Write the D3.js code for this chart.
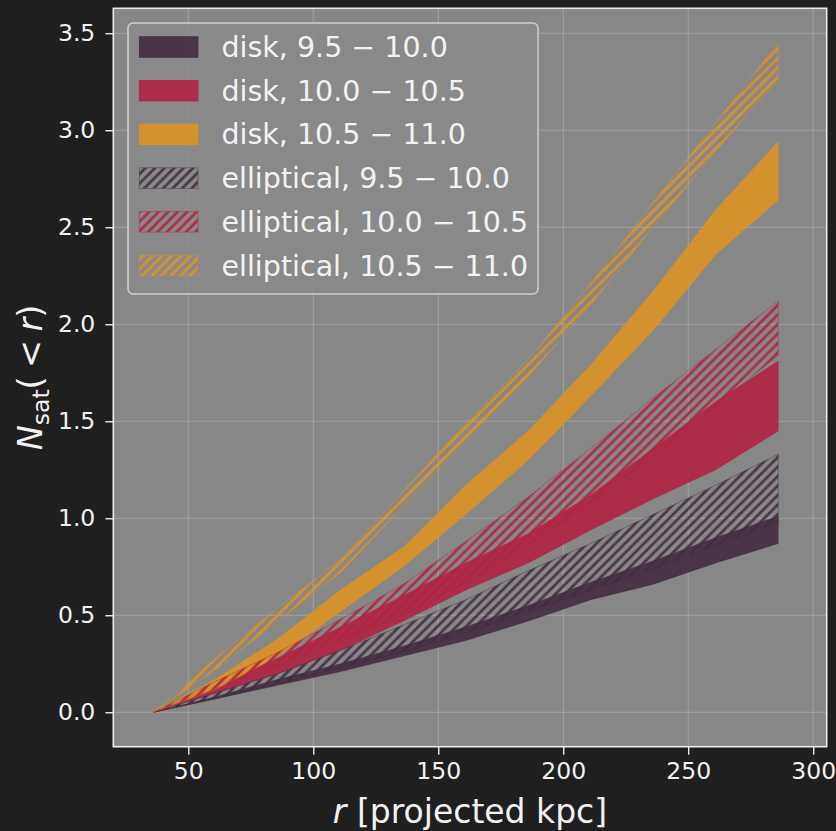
<!DOCTYPE html>
<html>
<head>
<meta charset="utf-8">
<script src="https://cdn.jsdelivr.net/npm/d3@7"></script>
<style>
  html, body { margin: 0; padding: 0; background: #1f1f1f; }
  svg { display: block; font-family: "DejaVu Sans", sans-serif; }
</style>
</head>
<body>
<svg id="chart" width="836" height="831"></svg>
<script>
// Cumulative satellite counts N_sat(<r) vs projected radius, by host type and stellar-mass bin
const radii = [36, 61, 86, 111, 136, 161, 186, 211, 236, 261, 286];

const disk1Lo = [0, 0.07, 0.14, 0.21, 0.29, 0.37, 0.47, 0.58, 0.66, 0.77, 0.87];
const disk1Hi = [0, 0.08, 0.17, 0.25, 0.34, 0.44, 0.55, 0.67, 0.78, 0.90, 1.01];
const disk2Lo = [0, 0.10, 0.20, 0.32, 0.47, 0.63, 0.77, 0.94, 1.10, 1.25, 1.45];
const disk2Hi = [0, 0.14, 0.28, 0.44, 0.60, 0.77, 0.92, 1.12, 1.36, 1.60, 1.81];
const disk3Lo = [0, 0.12, 0.29, 0.52, 0.75, 1.02, 1.30, 1.63, 1.97, 2.36, 2.64];
const disk3Hi = [0, 0.17, 0.38, 0.63, 0.85, 1.17, 1.45, 1.79, 2.17, 2.59, 2.94];

const ell1Lo = [0, 0.07, 0.15, 0.23, 0.31, 0.41, 0.52, 0.63, 0.74, 0.86, 0.98];
const ell1Hi = [0, 0.10, 0.20, 0.32, 0.45, 0.58, 0.73, 0.87, 1.02, 1.17, 1.33];
const ell2Lo = [0, 0.12, 0.24, 0.37, 0.50, 0.66, 0.86, 1.08, 1.32, 1.58, 1.84];
const ell2Hi = [0, 0.16, 0.31, 0.48, 0.66, 0.88, 1.11, 1.36, 1.62, 1.87, 2.12];
const ell3Lo = [0, 0.22, 0.47, 0.72, 1.06, 1.40, 1.73, 2.10, 2.50, 2.89, 3.26];
const ell3Hi = [0, 0.28, 0.54, 0.79, 1.14, 1.49, 1.82, 2.21, 2.63, 3.04, 3.45];

const xTicks = [50, 100, 150, 200, 250, 300];
const yTicks = [0.0, 0.5, 1.0, 1.5, 2.0, 2.5, 3.0, 3.5];

// Band colours (drawn at 90% opacity over the grey axes face)
const bandColors = ["#432c40", "#b02443", "#dd9325"];
const bandAlpha = 0.9;
const massLabels = ["9.5 \u2212 10.0", "10.0 \u2212 10.5", "10.5 \u2212 11.0"];

const series = [
  { label: "disk, " + massLabels[0], color: bandColors[0], lo: disk1Lo, hi: disk1Hi, hatch: false },
  { label: "disk, " + massLabels[1], color: bandColors[1], lo: disk2Lo, hi: disk2Hi, hatch: false },
  { label: "disk, " + massLabels[2], color: bandColors[2], lo: disk3Lo, hi: disk3Hi, hatch: false },
  { label: "elliptical, " + massLabels[0], color: bandColors[0], lo: ell1Lo, hi: ell1Hi, hatch: true },
  { label: "elliptical, " + massLabels[1], color: bandColors[1], lo: ell2Lo, hi: ell2Hi, hatch: true },
  { label: "elliptical, " + massLabels[2], color: bandColors[2], lo: ell3Lo, hi: ell3Hi, hatch: true }
];

const plot = { left: 113.3, right: 826.7, top: 8.3, bottom: 746.7 };

const svg = d3.select("#chart");

const x = d3.scaleLinear().domain([20.0, 305.4]).range([plot.left, plot.right]);
const y = d3.scaleLinear().domain([-0.1775, 3.6285]).range([plot.bottom, plot.top]);

// Diagonal hatch patterns, anchored to the page grid
const hatchStep = 9.5;
const defs = svg.append("defs");
bandColors.forEach((c, i) => {
  const p = defs.append("pattern")
    .attr("id", "hatch" + i)
    .attr("patternUnits", "userSpaceOnUse")
    .attr("width", hatchStep).attr("height", hatchStep);
  p.append("path")
    .attr("d", `M-2,2 L2,-2 M0,${hatchStep} L${hatchStep},0 M${hatchStep - 2},${hatchStep + 2} L${hatchStep + 2},${hatchStep - 2}`)
    .attr("stroke", c).attr("stroke-width", 2.8);
});
defs.append("clipPath").attr("id", "plotClip")
  .append("rect")
  .attr("x", plot.left).attr("y", plot.top)
  .attr("width", plot.right - plot.left).attr("height", plot.bottom - plot.top);

// Axes background
svg.append("rect")
  .attr("x", plot.left).attr("y", plot.top)
  .attr("width", plot.right - plot.left).attr("height", plot.bottom - plot.top)
  .attr("fill", "#878787");

// Grid
const grid = svg.append("g").attr("stroke", "#a9a9a9").attr("stroke-width", 1).attr("stroke-opacity", 0.8);
xTicks.forEach(t => grid.append("line")
  .attr("x1", x(t)).attr("x2", x(t)).attr("y1", plot.top).attr("y2", plot.bottom));
yTicks.forEach(t => grid.append("line")
  .attr("y1", y(t)).attr("y2", y(t)).attr("x1", plot.left).attr("x2", plot.right));

// Bands
const area = d3.area()
  .x((d, i) => x(radii[i]))
  .y0(d => y(d[0]))
  .y1(d => y(d[1]));

const bands = svg.append("g").attr("clip-path", "url(#plotClip)");
series.forEach(s => {
  const pts = radii.map((r, i) => [s.lo[i], s.hi[i]]);
  const ci = bandColors.indexOf(s.color);
  if (!s.hatch) {
    bands.append("path").datum(pts)
      .attr("d", area)
      .attr("fill", s.color).attr("fill-opacity", bandAlpha)
      .attr("stroke", s.color).attr("stroke-width", 0.6).attr("stroke-opacity", bandAlpha);
  } else {
    bands.append("path").datum(pts)
      .attr("d", area)
      .attr("fill", "url(#hatch" + ci + ")").attr("fill-opacity", bandAlpha)
      .attr("stroke", s.color).attr("stroke-width", 0.8).attr("stroke-opacity", 0.55);
  }
});

// Spines
svg.append("rect")
  .attr("x", plot.left).attr("y", plot.top)
  .attr("width", plot.right - plot.left).attr("height", plot.bottom - plot.top)
  .attr("fill", "none").attr("stroke", "#ececec").attr("stroke-width", 1.6);

// Axes with ticks
const xAxis = d3.axisBottom(x).tickValues(xTicks).tickFormat(d3.format("d")).tickSize(8).tickPadding(8);
const yAxis = d3.axisLeft(y).tickValues(yTicks).tickFormat(d3.format(".1f")).tickSize(8).tickPadding(10);

const gx = svg.append("g").attr("transform", `translate(0,${plot.bottom})`).call(xAxis);
const gy = svg.append("g").attr("transform", `translate(${plot.left},0)`).call(yAxis);
[gx, gy].forEach(g => {
  g.select(".domain").remove();
  g.selectAll(".tick line").attr("stroke", "#ececec").attr("stroke-width", 1.4);
  g.selectAll(".tick text").attr("fill", "#f2f2f2")
    .attr("font-family", "DejaVu Sans").attr("font-size", 23.5);
});

// Axis labels
const xl = svg.append("text")
  .attr("x", (plot.left + plot.right) / 2).attr("y", 823)
  .attr("text-anchor", "middle").attr("fill", "#f2f2f2")
  .attr("font-size", 33);
xl.append("tspan").attr("font-style", "italic").text("r");
xl.append("tspan").text(" [projected kpc]");

const yl = svg.append("text")
  .attr("transform", `translate(42,${(plot.top + plot.bottom) / 2}) rotate(-90)`)
  .attr("text-anchor", "middle").attr("fill", "#f2f2f2")
  .attr("font-size", 33.5);
yl.append("tspan").attr("font-style", "italic").text("N");
yl.append("tspan").attr("font-size", 23.5).attr("dy", 7).text("sat");
yl.append("tspan").attr("dy", -7).text("(\u2005<\u2005");
yl.append("tspan").attr("font-style", "italic").text("r");
yl.append("tspan").text(")");

// Legend
const lg = svg.append("g");
lg.append("rect")
  .attr("x", 128).attr("y", 23).attr("width", 410).attr("height", 271)
  .attr("rx", 5).attr("ry", 5)
  .attr("fill", "#898989").attr("fill-opacity", 0.85)
  .attr("stroke", "#d0d0d0").attr("stroke-width", 1.5);

const rowY = d3.scaleLinear().domain([0, 5]).range([47, 265.5]);
series.forEach((s, i) => {
  const cy = rowY(i);
  const ci = bandColors.indexOf(s.color);
  lg.append("rect")
    .attr("x", 139.3).attr("y", cy - 10.3).attr("width", 58.7).attr("height", 20.6)
    .attr("fill", s.hatch ? "url(#hatch" + ci + ")" : s.color)
    .attr("fill-opacity", bandAlpha)
    .attr("stroke", s.color).attr("stroke-width", 0.8).attr("stroke-opacity", s.hatch ? 0.5 : bandAlpha);
  lg.append("text")
    .attr("x", 221.5).attr("y", cy + 10)
    .attr("fill", "#f2f2f2").attr("font-size", 28.5)
    .text(s.label);
});
</script>
</body>
</html>
